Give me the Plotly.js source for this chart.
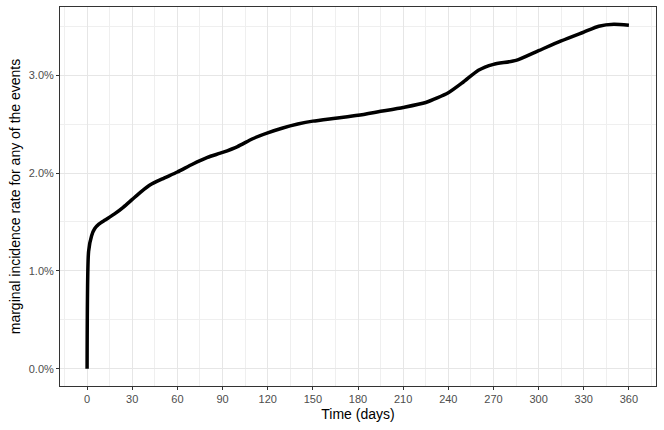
<!DOCTYPE html>
<html>
<head>
<meta charset="utf-8">
<script src="https://cdn.plot.ly/plotly-3.0.1.min.js"></script>
<style>
  html, body { margin: 0; padding: 0; background: #ffffff; }
  #grafico { width: 664px; height: 430px; }
</style>
</head>
<body>
<div id="grafico"></div>
<script>
// Dias de seguimento e taxa de incidência marginal (%)
const days = [0, 1, 3, 5, 8, 12, 18, 24, 30, 36, 42, 50, 60, 70, 80, 90, 100, 110, 120, 130,
  140, 150, 165, 180, 195, 210, 225, 240, 250, 260, 270, 285, 300, 315, 330, 340, 350, 360];
const incidence = [0, 1.2, 1.36, 1.43, 1.48, 1.52, 1.58, 1.65, 1.73, 1.81, 1.88, 1.94, 2.01, 2.09,
  2.16, 2.21, 2.27, 2.35, 2.41, 2.46, 2.50, 2.53, 2.56, 2.59, 2.63, 2.67, 2.72, 2.82, 2.93, 3.05,
  3.11, 3.15, 3.25, 3.35, 3.44, 3.50, 3.52, 3.51];
const xTicks = [0, 30, 60, 90, 120, 150, 180, 210, 240, 270, 300, 330, 360];
const yTicks = [0, 1, 2, 3];

const data = [
    {
        x: days,
        y: incidence,
        type: 'scatter',
        mode: 'lines',
        line: { color: '#000000', width: 3.5, shape: 'spline', smoothing: 0.6 },
        hoverinfo: 'x+y'
    }
];

const gridColor = '#E6E6E6';

const layout = {
    width: 664,
    height: 430,
    margin: { l: 60, r: 8, t: 7, b: 44 },
    showlegend: false,
    font: { family: 'Liberation Sans, Arial, sans-serif', color: '#000000' },
    xaxis: {
        title: { text: 'Time (days)', font: { size: 14, color: '#000000' }, standoff: 4 },
        range: [-18, 378],
        tickvals: xTicks,
        ticktext: xTicks.map(String),
        tickfont: { size: 11, color: '#4D4D4D' },
        ticks: 'outside',
        ticklen: 3,
        tickcolor: '#333333',
        showgrid: true,
        gridcolor: gridColor,
        gridwidth: 1,
        minor: { dtick: 15, tick0: 0, showgrid: true, gridcolor: '#EFEFEF', gridwidth: 1 },
        zeroline: false,
        showline: true,
        mirror: true,
        linecolor: '#333333',
        linewidth: 1
    },
    yaxis: {
        title: { text: 'marginal incidence rate for any of the events', font: { size: 14, color: '#000000' }, standoff: 4 },
        range: [-0.176, 3.696],
        tickvals: yTicks,
        ticktext: yTicks.map(v => v.toFixed(1) + '%'),
        tickfont: { size: 11, color: '#4D4D4D' },
        ticks: 'outside',
        ticklen: 3,
        tickcolor: '#333333',
        showgrid: true,
        gridcolor: gridColor,
        gridwidth: 1,
        minor: { dtick: 0.5, tick0: 0, showgrid: true, gridcolor: '#EFEFEF', gridwidth: 1 },
        zeroline: false,
        showline: true,
        mirror: true,
        linecolor: '#333333',
        linewidth: 1
    },
    plot_bgcolor: '#ffffff',
    paper_bgcolor: '#ffffff'
};

Plotly.newPlot('grafico', data, layout, { displayModeBar: false, staticPlot: true });
</script>
</body>
</html>
